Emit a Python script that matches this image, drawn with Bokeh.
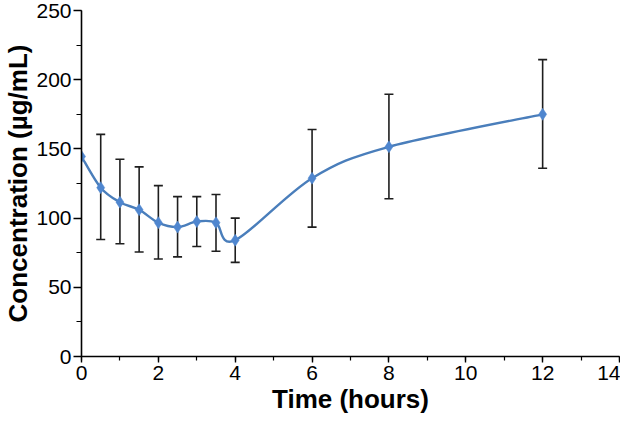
import numpy as np
from bokeh.plotting import figure
from bokeh.models import ColumnDataSource, Whisker, TeeHead, SingleIntervalTicker, Range1d
from bokeh.embed import file_html
from bokeh.resources import INLINE

# ---- data ----
time_h = [0, 0.5, 1, 1.5, 2, 2.5, 3, 3.5, 4, 6, 8, 12]
conc = [144.5, 122.0, 111.5, 106.0, 96.7, 93.5, 97.5, 96.7, 84.0, 128.8, 151.5, 175.0]

err_time = [0.5, 1, 1.5, 2, 2.5, 3, 3.5, 4, 6, 8, 12]
err_upper = [160.5, 142.5, 137.0, 123.5, 115.5, 115.5, 117.0, 100.0, 164.0, 189.5, 214.5]
err_lower = [84.5, 81.5, 75.5, 70.5, 72.0, 79.5, 76.0, 68.0, 93.5, 114.0, 136.0]

x_ticks = [0, 2, 4, 6, 8, 10, 12, 14]
y_ticks = [0, 50, 100, 150, 200, 250]

LINE_COLOR = "#4a7ebb"
MARKER_COLOR = "#4f86cf"
FONT = "Liberation Sans"

# ---- smoothed line: Catmull-Rom style Bezier segments built from the data ----
t = np.array(time_h, dtype=float)
c = np.array(conc, dtype=float)
n = len(t)
tp = np.concatenate([[t[0]], t, [t[-1]]])
cp = np.concatenate([[c[0]], c, [c[-1]]])
k = 1.0 / 6.0
seg = dict(x0=[], y0=[], x1=[], y1=[], cx0=[], cy0=[], cx1=[], cy1=[])
for i in range(n - 1):
    px, py = tp[i], cp[i]
    ax, ay = tp[i + 1], cp[i + 1]
    bx, by = tp[i + 2], cp[i + 2]
    nx, ny = tp[i + 3], cp[i + 3]
    seg["x0"].append(ax); seg["y0"].append(ay)
    seg["x1"].append(bx); seg["y1"].append(by)
    seg["cx0"].append(ax + (bx - px) * k); seg["cy0"].append(ay + (by - py) * k)
    seg["cx1"].append(bx - (nx - ax) * k); seg["cy1"].append(by - (ny - ay) * k)

p = figure(
    frame_width=538, frame_height=346,
    x_range=Range1d(0, 14), y_range=Range1d(0, 250),
    output_backend="svg", toolbar_location=None,
    min_border_left=79, min_border_right=1, min_border_top=10, min_border_bottom=63,
)
p.outline_line_color = None
p.grid.visible = False
p.background_fill_color = "white"
p.border_fill_color = "white"

# error bars
err_src = ColumnDataSource(dict(x=err_time, upper=err_upper, lower=err_lower))
w = Whisker(
    base="x", upper="upper", lower="lower", source=err_src, dimension="height",
    line_color="#1e1e1e", line_width=1.6,
    upper_head=TeeHead(size=9, line_color="#1e1e1e", line_width=1.6),
    lower_head=TeeHead(size=9, line_color="#1e1e1e", line_width=1.6),
    level="underlay",
)
p.add_layout(w)

# smoothed line
p.bezier(x0="x0", y0="y0", x1="x1", y1="y1", cx0="cx0", cy0="cy0", cx1="cx1", cy1="cy1",
         source=ColumnDataSource(seg), line_color=LINE_COLOR, line_width=2.4)

# markers
p.scatter(time_h, conc, marker="diamond", size=12, fill_color=MARKER_COLOR,
          line_color=MARKER_COLOR, line_width=0.5)

# axes
xa = p.xaxis[0]
xa.ticker = SingleIntervalTicker(interval=2, num_minor_ticks=2)
xa.axis_label = "Time (hours)"
xa.major_tick_out = 6
xa.major_tick_in = 0
xa.minor_tick_out = 4
xa.minor_tick_in = 0
xa.major_label_standoff = 3
xa.axis_label_standoff = 1

ya = p.yaxis[0]
ya.ticker = SingleIntervalTicker(interval=50, num_minor_ticks=2)
ya.axis_label = "Concentration (µg/mL)"
ya.major_tick_out = 8
ya.major_tick_in = 0
ya.minor_tick_out = 5
ya.minor_tick_in = 0
ya.major_label_standoff = 2
ya.axis_label_standoff = 0

for ax in (xa, ya):
    ax.axis_line_color = "black"
    ax.axis_line_width = 1.6
    ax.major_tick_line_color = "black"
    ax.major_tick_line_width = 1.4
    ax.minor_tick_line_color = "black"
    ax.minor_tick_line_width = 1.2
    ax.major_label_text_font = FONT
    ax.major_label_text_font_size = "21px"
    ax.major_label_text_color = "black"
    ax.axis_label_text_font = FONT
    ax.axis_label_text_font_size = "26px"
    ax.axis_label_text_font_style = "bold"
    ax.axis_label_text_color = "black"

open("out.html", "w").write(file_html(p, INLINE))
